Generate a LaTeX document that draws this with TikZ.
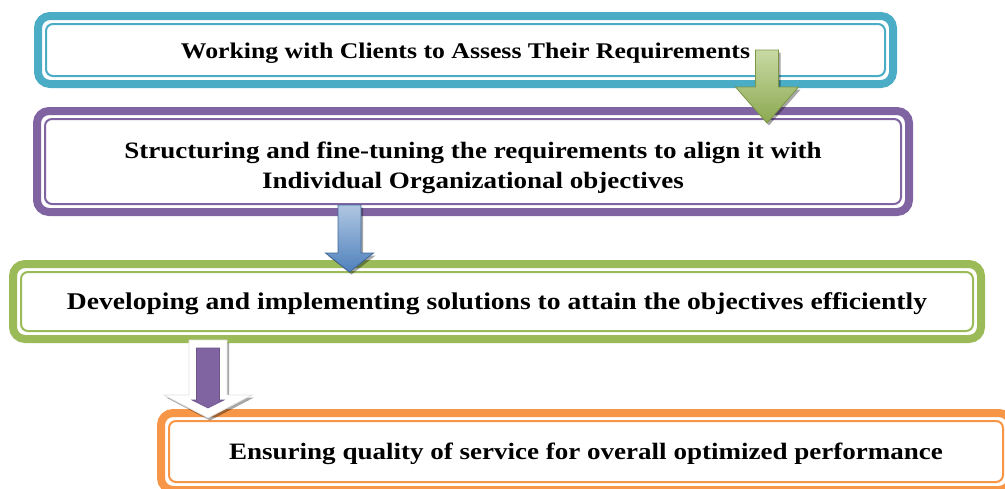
\documentclass[tikz,border=0pt]{standalone}
\usepackage{fontspec}
\setmainfont{Liberation Serif}[FakeStretch=1.15]
\usetikzlibrary{calc, shadows}

\definecolor{aquaedge}{HTML}{4BACC6}
\definecolor{violetedge}{HTML}{8064A2}
\definecolor{leafedge}{HTML}{9BBB59}
\definecolor{amberedge}{HTML}{F79646}
\definecolor{skyedge}{HTML}{4F81BD}

% thin line inside the thick frame of a box
\newcommand{\innerframe}[2]{%
	\draw[innerline, #2] ([shift={(8pt,-8pt)}]#1.north west) rectangle ([shift={(-8pt,8pt)}]#1.south east);}
% block arrow: style, from, to, half shaft, half head, head length
\newcommand{\flowarrow}[6]{%
	\path[#1] let \p1=(#2), \p2=(#3) in
		(\x1-#4pt,\y1) -- (\x1+#4pt,\y1) -- (\x1+#4pt,\y2+#6pt) -- (\x1+#5pt,\y2+#6pt)
		-- (\x1,\y2) -- (\x1-#5pt,\y2+#6pt) -- (\x1-#4pt,\y2+#6pt) -- cycle;}

\begin{document}
\begin{tikzpicture}[x=1pt, y=-1pt]
			\tikzstyle{stepbox}=[line width=8pt, rounded corners=12pt, outer sep=0pt, inner sep=0pt, fill=white, text=black, text height=16pt, text depth=0pt, font=\fontsize{23.5}{30}\selectfont\bfseries]
			\tikzstyle{innerline}=[line width=2pt, rounded corners=7pt]
			\tikzstyle{arrowbody}=[line width=0.8pt, drop shadow={shadow xshift=2pt, shadow yshift=-2.5pt, opacity=0.35, fill=black}]
			
			\useasboundingbox (0,0) rectangle (1005,488);
			
			\node (req) at (465.5,50) [stepbox, draw=aquaedge, minimum width=855pt, minimum height=68pt, font=\fontsize{22.4}{30}\selectfont\bfseries] {Working with Clients to Assess Their Requirements};
			\innerframe{req}{aquaedge}
			
			\node (struct) at (473,161.5) [stepbox, draw=violetedge, minimum width=872pt, minimum height=101pt, align=center, text height=53pt] {Structuring and fine-tuning the requirements to align it with\\Individual Organizational objectives};
			\innerframe{struct}{violetedge}
			
			\node (devel) at (497,301.5) [stepbox, draw=leafedge, minimum width=968pt, minimum height=75pt, font=\fontsize{24}{30}\selectfont\bfseries] {Developing and implementing solutions to attain the objectives efficiently};
			\innerframe{devel}{leafedge}
			
			\node (qos) at (586,451.5) [stepbox, draw=amberedge, minimum width=850pt, minimum height=77pt] {Ensuring quality of service for overall optimized performance};
			\innerframe{qos}{amberedge}
			
			% arrows between the boxes
			\coordinate (g0) at ([xshift=301.5pt]req.center);
			\coordinate (g1) at ([yshift=-12pt]g0 |- struct.north);
			\flowarrow{arrowbody, draw=leafedge!80!black, top color=leafedge!55!white, bottom color=leafedge!90!black}{g0}{g1}{11.5}{31.5}{36}
			
			\coordinate (b0) at ([xshift=-123.5pt, yshift=7pt]struct.south);
			\coordinate (b1) at ([yshift=-8pt]b0 |- devel.north);
			\flowarrow{arrowbody, draw=skyedge!80!black, top color=skyedge!45!white, bottom color=skyedge}{b0}{b1}{11.5}{24}{19}
			
			\coordinate (w0) at ([xshift=-289pt, yshift=-1pt]devel.south);
			\coordinate (w1) at ([yshift=-5pt]w0 |- qos.north);
			\flowarrow{arrowbody, draw=black!12, fill=white}{w0}{w1}{19}{44}{23}
			
			\coordinate (p0) at ([yshift=-8pt]w0);
			\coordinate (p1) at ([yshift=10pt]w1);
			\flowarrow{fill=violetedge, draw=violetedge!85!black, line width=0.6pt}{p0}{p1}{11.5}{16}{8}
			
\end{tikzpicture}
\end{document}
